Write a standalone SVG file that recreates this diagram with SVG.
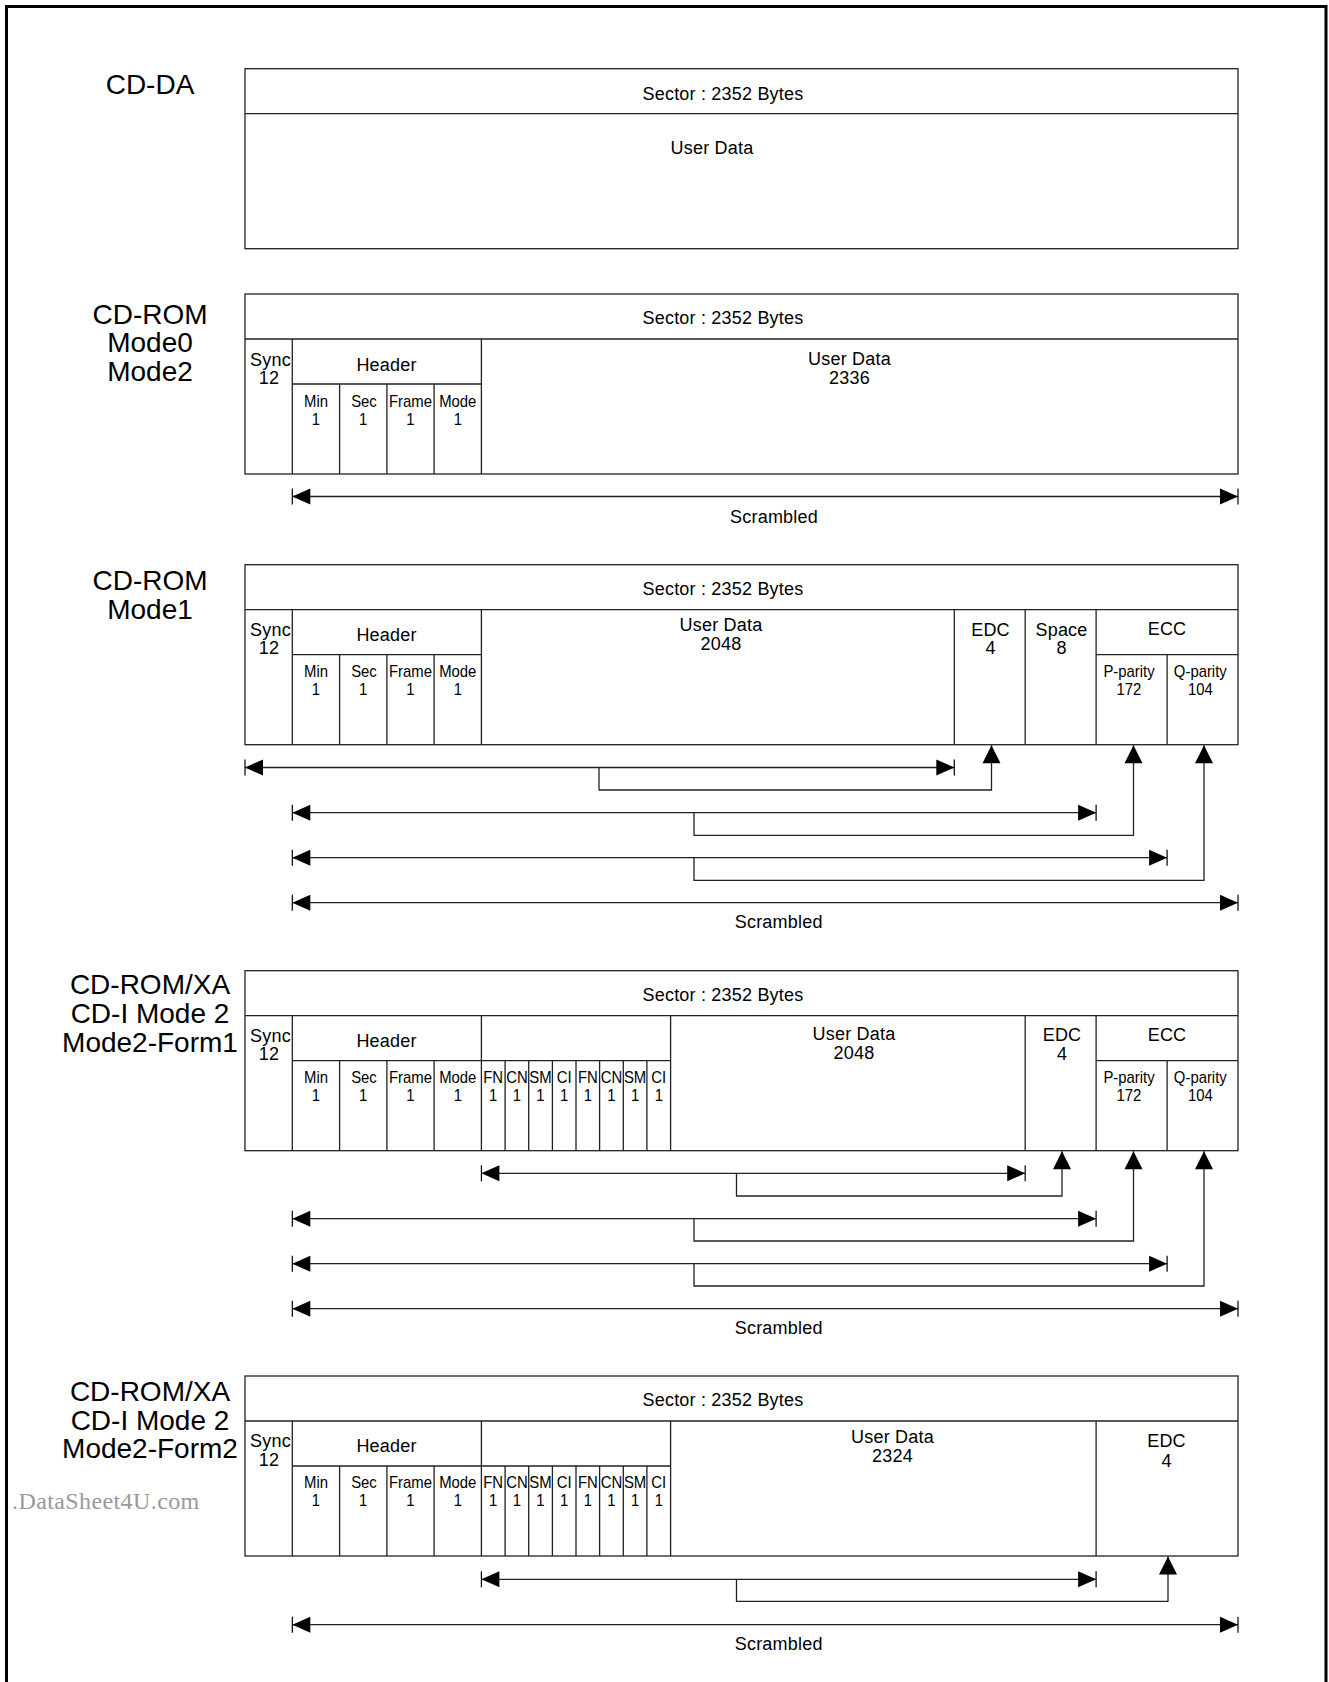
<svg xmlns="http://www.w3.org/2000/svg" width="1329" height="1682" viewBox="0 0 1329 1682">
<style>
.bx{fill:none;stroke:#222;stroke-width:1.3}
.cn{fill:none;stroke:#222;stroke-width:1.3}
text{font-family:"Liberation Sans",Arial,sans-serif;fill:#000;text-anchor:middle}
.b{font-size:18px;letter-spacing:0.2px}
.s{font-size:16px;transform-box:fill-box;transform-origin:center;transform:scaleX(0.93)}
.t{font-size:28px}
.wm{font-family:"Liberation Serif","Times New Roman",serif;font-size:24px;fill:#999;text-anchor:start;letter-spacing:0.4px}
</style>
<defs>
<marker id="ah" viewBox="-19 -9 20 18" refX="0" refY="0" markerWidth="20" markerHeight="18" markerUnits="userSpaceOnUse" orient="auto-start-reverse" overflow="visible">
<path d="M0,0 L-18,-8 L-18,8 Z" fill="#000"/>
<path d="M0,-8 V8" stroke="#000" stroke-width="1.2" fill="none"/>
</marker>
<marker id="up" viewBox="-19 -9 20 18" refX="0" refY="0" markerWidth="20" markerHeight="18" markerUnits="userSpaceOnUse" orient="auto" overflow="visible">
<path d="M0,0 L-18,-9 L-18,9 Z" fill="#000"/>
</marker>
</defs>
<rect width="1329" height="1682" fill="#fff"/>
<text class="wm" x="12" y="1509">.DataSheet4U.com</text>
<rect x="6.5" y="6.5" width="1319.5" height="1700" fill="none" stroke="#000" stroke-width="3"/>

<g id="cd-da">
<text class="t" x="150" y="94">CD-DA</text>
<rect class="bx" x="245" y="68.7" width="993" height="180"/>
<path class="bx" d="M245,113.7H1238"/>
<text class="b" x="723" y="99.5">Sector : 2352 Bytes</text>
<text class="b" x="712" y="153.5">User Data</text>
</g>

<g id="cd-rom-mode0-mode2">
<text class="t" x="150" y="323.5">CD-ROM</text>
<text class="t" x="150" y="352">Mode0</text>
<text class="t" x="150" y="380.5">Mode2</text>
<rect class="bx" x="245" y="294" width="993" height="180"/>
<path class="bx" d="M245,339H1238M292.3,339V474M481.4,339V474M292.3,384H481.4M339.6,384V474M386.9,384V474M434.1,384V474"/>
<text class="b" x="723" y="324">Sector : 2352 Bytes</text>
<text class="b" x="270.5" y="366">Sync</text>
<text class="b" x="269" y="384">12</text>
<text class="b" x="386.5" y="371">Header</text>
<text class="s" x="316" y="407.3">Min</text>
<text class="s" x="364" y="407.3">Sec</text>
<text class="s" x="410.5" y="407.3">Frame</text>
<text class="s" x="457.8" y="407.3">Mode</text>
<text class="s" x="316" y="425">1</text>
<text class="s" x="363.2" y="425">1</text>
<text class="s" x="410.5" y="425">1</text>
<text class="s" x="457.8" y="425">1</text>
<text class="b" x="849.5" y="364.5">User Data</text>
<text class="b" x="849.5" y="384">2336</text>
<text class="b" x="774" y="522.5">Scrambled</text>
</g>

<g id="cd-rom-mode1">
<text class="t" x="150" y="590">CD-ROM</text>
<text class="t" x="150" y="618.5">Mode1</text>
<rect class="bx" x="245" y="564.7" width="993" height="180"/>
<path class="bx" d="M245,609.7H1238M292.3,609.7V744.7M481.4,609.7V744.7M954.3,609.7V744.7M1025.2,609.7V744.7M1096.1,609.7V744.7M292.3,654.7H481.4M1096.1,654.7H1238M339.6,654.7V744.7M386.9,654.7V744.7M434.1,654.7V744.7M1167.1,654.7V744.7"/>
<text class="b" x="723" y="594.5">Sector : 2352 Bytes</text>
<text class="b" x="270.5" y="636.2">Sync</text>
<text class="b" x="269" y="654.3">12</text>
<text class="b" x="386.5" y="640.7">Header</text>
<text class="s" x="316" y="677.5">Min</text>
<text class="s" x="364" y="677.5">Sec</text>
<text class="s" x="410.5" y="677.5">Frame</text>
<text class="s" x="457.8" y="677.5">Mode</text>
<text class="s" x="316" y="695.5">1</text>
<text class="s" x="363.2" y="695.5">1</text>
<text class="s" x="410.5" y="695.5">1</text>
<text class="s" x="457.8" y="695.5">1</text>
<text class="b" x="721" y="630.7">User Data</text>
<text class="b" x="721" y="650">2048</text>
<text class="b" x="990.5" y="636">EDC</text>
<text class="b" x="990.5" y="654.3">4</text>
<text class="b" x="1061.5" y="636">Space</text>
<text class="b" x="1061.5" y="654.3">8</text>
<text class="b" x="1167" y="635.3">ECC</text>
<text class="s" x="1129" y="677.3">P-parity</text>
<text class="s" x="1129" y="695">172</text>
<text class="s" x="1200.3" y="677.3">Q-parity</text>
<text class="s" x="1200.3" y="695">104</text>
<text class="b" x="778.7" y="928">Scrambled</text>
</g>

<g id="cd-rom-xa-form1">
<text class="t" x="150" y="993.5">CD-ROM/XA</text>
<text class="t" x="150" y="1023">CD-I Mode 2</text>
<text class="t" x="150" y="1052">Mode2-Form1</text>
<rect class="bx" x="245" y="970.7" width="993" height="180"/>
<path class="bx" d="M245,1015.7H1238M292.3,1015.7V1150.7M481.4,1015.7V1150.7M670.6,1015.7V1150.7M1025.2,1015.7V1150.7M1096.1,1015.7V1150.7M292.3,1060.7H670.6M1096.1,1060.7H1238M339.6,1060.7V1150.7M386.9,1060.7V1150.7M434.1,1060.7V1150.7M505.1,1060.7V1150.7M528.7,1060.7V1150.7M552.4,1060.7V1150.7M576,1060.7V1150.7M599.6,1060.7V1150.7M623.3,1060.7V1150.7M646.9,1060.7V1150.7M1167.1,1060.7V1150.7"/>
<text class="b" x="723" y="1000.7">Sector : 2352 Bytes</text>
<text class="b" x="270.5" y="1042">Sync</text>
<text class="b" x="269" y="1060.3">12</text>
<text class="b" x="386.5" y="1046.5">Header</text>
<text class="s" x="316" y="1082.9">Min</text>
<text class="s" x="364" y="1082.9">Sec</text>
<text class="s" x="410.5" y="1082.9">Frame</text>
<text class="s" x="457.8" y="1082.9">Mode</text>
<text class="s" x="493.2" y="1082.9">FN</text>
<text class="s" x="516.9" y="1082.9">CN</text>
<text class="s" x="540.5" y="1082.9">SM</text>
<text class="s" x="564.2" y="1082.9">CI</text>
<text class="s" x="587.8" y="1082.9">FN</text>
<text class="s" x="611.5" y="1082.9">CN</text>
<text class="s" x="635.1" y="1082.9">SM</text>
<text class="s" x="658.8" y="1082.9">CI</text>
<text class="s" x="316" y="1101.5">1</text>
<text class="s" x="363.2" y="1101.5">1</text>
<text class="s" x="410.5" y="1101.5">1</text>
<text class="s" x="457.8" y="1101.5">1</text>
<text class="s" x="493.2" y="1101.5">1</text>
<text class="s" x="516.9" y="1101.5">1</text>
<text class="s" x="540.5" y="1101.5">1</text>
<text class="s" x="564.2" y="1101.5">1</text>
<text class="s" x="587.8" y="1101.5">1</text>
<text class="s" x="611.5" y="1101.5">1</text>
<text class="s" x="635.1" y="1101.5">1</text>
<text class="s" x="658.8" y="1101.5">1</text>
<text class="b" x="854" y="1040.2">User Data</text>
<text class="b" x="854" y="1059.2">2048</text>
<text class="b" x="1062" y="1041.2">EDC</text>
<text class="b" x="1062" y="1060">4</text>
<text class="b" x="1167" y="1040.5">ECC</text>
<text class="s" x="1129" y="1083">P-parity</text>
<text class="s" x="1129" y="1101">172</text>
<text class="s" x="1200.3" y="1083">Q-parity</text>
<text class="s" x="1200.3" y="1101">104</text>
<text class="b" x="778.7" y="1334">Scrambled</text>
</g>

<g id="cd-rom-xa-form2">
<text class="t" x="150" y="1401">CD-ROM/XA</text>
<text class="t" x="150" y="1429.5">CD-I Mode 2</text>
<text class="t" x="150" y="1458">Mode2-Form2</text>
<rect class="bx" x="245" y="1376" width="993" height="180"/>
<path class="bx" d="M245,1421H1238M292.3,1421V1556M481.4,1421V1556M670.6,1421V1556M1096.1,1421V1556M292.3,1466H670.6M339.6,1466V1556M386.9,1466V1556M434.1,1466V1556M505.1,1466V1556M528.7,1466V1556M552.4,1466V1556M576,1466V1556M599.6,1466V1556M623.3,1466V1556M646.9,1466V1556"/>
<text class="b" x="723" y="1406.2">Sector : 2352 Bytes</text>
<text class="b" x="270.5" y="1447.3">Sync</text>
<text class="b" x="269" y="1465.6">12</text>
<text class="b" x="386.5" y="1451.8">Header</text>
<text class="s" x="316" y="1488">Min</text>
<text class="s" x="364" y="1488">Sec</text>
<text class="s" x="410.5" y="1488">Frame</text>
<text class="s" x="457.8" y="1488">Mode</text>
<text class="s" x="493.2" y="1488">FN</text>
<text class="s" x="516.9" y="1488">CN</text>
<text class="s" x="540.5" y="1488">SM</text>
<text class="s" x="564.2" y="1488">CI</text>
<text class="s" x="587.8" y="1488">FN</text>
<text class="s" x="611.5" y="1488">CN</text>
<text class="s" x="635.1" y="1488">SM</text>
<text class="s" x="658.8" y="1488">CI</text>
<text class="s" x="316" y="1506.5">1</text>
<text class="s" x="363.2" y="1506.5">1</text>
<text class="s" x="410.5" y="1506.5">1</text>
<text class="s" x="457.8" y="1506.5">1</text>
<text class="s" x="493.2" y="1506.5">1</text>
<text class="s" x="516.9" y="1506.5">1</text>
<text class="s" x="540.5" y="1506.5">1</text>
<text class="s" x="564.2" y="1506.5">1</text>
<text class="s" x="587.8" y="1506.5">1</text>
<text class="s" x="611.5" y="1506.5">1</text>
<text class="s" x="635.1" y="1506.5">1</text>
<text class="s" x="658.8" y="1506.5">1</text>
<text class="b" x="892.5" y="1442.7">User Data</text>
<text class="b" x="892.5" y="1461.7">2324</text>
<text class="b" x="1166.5" y="1446.7">EDC</text>
<text class="b" x="1166.5" y="1466.5">4</text>
<text class="b" x="778.7" y="1650">Scrambled</text>
</g>

<g id="connectors">
<path class="cn" d="M292.3,496.5H1238" marker-start="url(#ah)" marker-end="url(#ah)"/>

<path class="cn" d="M245,767.5H954.3" marker-start="url(#ah)" marker-end="url(#ah)"/>
<path class="cn" d="M599,767.5V790H991.5V745.2" marker-end="url(#up)"/>
<path class="cn" d="M292.3,812.7H1096.1" marker-start="url(#ah)" marker-end="url(#ah)"/>
<path class="cn" d="M694,812.7V835.3H1133.5V745.2" marker-end="url(#up)"/>
<path class="cn" d="M292.3,857.7H1167.1" marker-start="url(#ah)" marker-end="url(#ah)"/>
<path class="cn" d="M694,857.7V880.3H1204V745.2" marker-end="url(#up)"/>
<path class="cn" d="M292.3,902.7H1238" marker-start="url(#ah)" marker-end="url(#ah)"/>

<path class="cn" d="M481.4,1173.3H1025.2" marker-start="url(#ah)" marker-end="url(#ah)"/>
<path class="cn" d="M736.5,1173.3V1196H1062V1151.2" marker-end="url(#up)"/>
<path class="cn" d="M292.3,1218.7H1096.1" marker-start="url(#ah)" marker-end="url(#ah)"/>
<path class="cn" d="M694,1218.7V1241H1133.5V1151.2" marker-end="url(#up)"/>
<path class="cn" d="M292.3,1263.7H1167.1" marker-start="url(#ah)" marker-end="url(#ah)"/>
<path class="cn" d="M694,1263.7V1286H1204V1151.2" marker-end="url(#up)"/>
<path class="cn" d="M292.3,1308.7H1238" marker-start="url(#ah)" marker-end="url(#ah)"/>

<path class="cn" d="M481.4,1579.3H1096.1" marker-start="url(#ah)" marker-end="url(#ah)"/>
<path class="cn" d="M736.5,1579.3V1601.3H1168V1556.5" marker-end="url(#up)"/>
<path class="cn" d="M292.3,1624.7H1238" marker-start="url(#ah)" marker-end="url(#ah)"/>
</g>
</svg>
